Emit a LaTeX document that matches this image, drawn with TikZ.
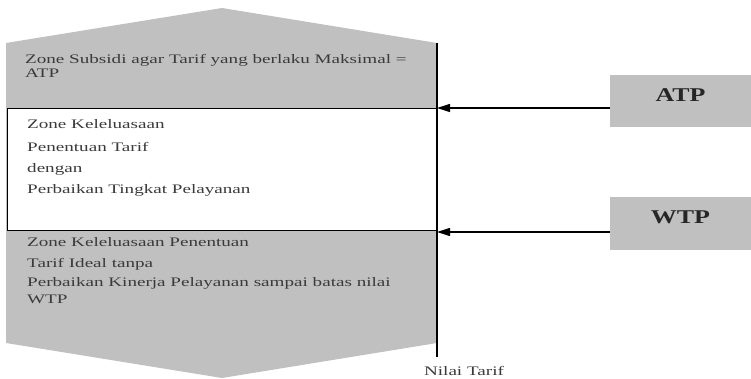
\documentclass[tikz,border=0pt]{standalone}
\usepackage{fontspec}
\setmainfont{Liberation Serif}
\usepackage{graphicx}
\usetikzlibrary{arrows.meta}
\usetikzlibrary{calc}

\definecolor{zonegray}{HTML}{C0C0C0}
\definecolor{txtgray}{HTML}{3A3A3A}
\newcommand{\wide}[2][1.47]{\scalebox{#1}[1]{#2}}

\begin{document}
\begin{tikzpicture}[x=1pt, y=-1pt,
    zonetext/.style={anchor=base west, inner sep=0pt, text=txtgray, font=\fontsize{13}{14}\selectfont},
    tpbox/.style={rectangle, fill=zonegray, inner sep=0pt, minimum width=141pt, minimum height=52pt,
      text height=16pt, text depth=16pt, text=black!85, font=\fontsize{19.5}{20}\selectfont\bfseries},
    tparrow/.style={-{Triangle[length=13pt, width=8pt]}, line width=1.1pt}]
  \useasboundingbox (0,0) rectangle (751,379);

  % gray band with pointed ends
  \fill[zonegray] (6,43) -- (222,8) -- (437,43) -- (437,343) -- (222,378) -- (6,343) -- cycle;

  % white middle zone
  \node[rectangle, draw, fill=white, line width=1.1pt, inner sep=0pt, anchor=north west,
    minimum width=430.5pt, minimum height=122pt] (mid) at (6.5,108) {};

  % tariff axis
  \coordinate (axtop) at (437,43);
  \coordinate (axbot) at (437,357);
  \draw[line width=1.3pt] (axtop) -- (axbot);

  \node[zonetext] (top1) at (25,64) {\wide{Zone Subsidi agar Tarif yang berlaku Maksimal =}};
  \node[zonetext] (top2) at (25,78) {\wide{ATP}};

  \foreach \n/\yy/\t in {1/129/{Zone Keleluasaan}, 2/151.5/{Penentuan Tarif},
      3/172.5/{dengan}, 4/194/{Perbaikan Tingkat Pelayanan}}
    \node[zonetext] (mid\n) at (27,\yy) {\wide{\t}};

  \foreach \n/\yy/\t in {1/246/{Zone Keleluasaan Penentuan}, 2/267.5/{Tarif Ideal tanpa},
      3/286/{Perbaikan Kinerja Pelayanan sampai batas nilai}, 4/303/{WTP}}
    \node[zonetext] (bot\n) at (27,\yy) {\wide{\t}};

  \node[zonetext, anchor=base] (nilai) at (464,375) {\wide{Nilai Tarif}};

  % ATP and WTP
  \node[tpbox] (atp) at (680.5,101.5) {\wide[1.33]{ATP}};
  \node[tpbox] (wtp) at (680.5,223.5) {\wide[1.33]{WTP}};

  \coordinate (atpin) at (437,108);
  \coordinate (wtpin) at (437,232);
  \draw[tparrow] (atp.west |- atpin) -- (atpin);
  \draw[tparrow] (wtp.west |- wtpin) -- (wtpin);
\end{tikzpicture}
\end{document}
